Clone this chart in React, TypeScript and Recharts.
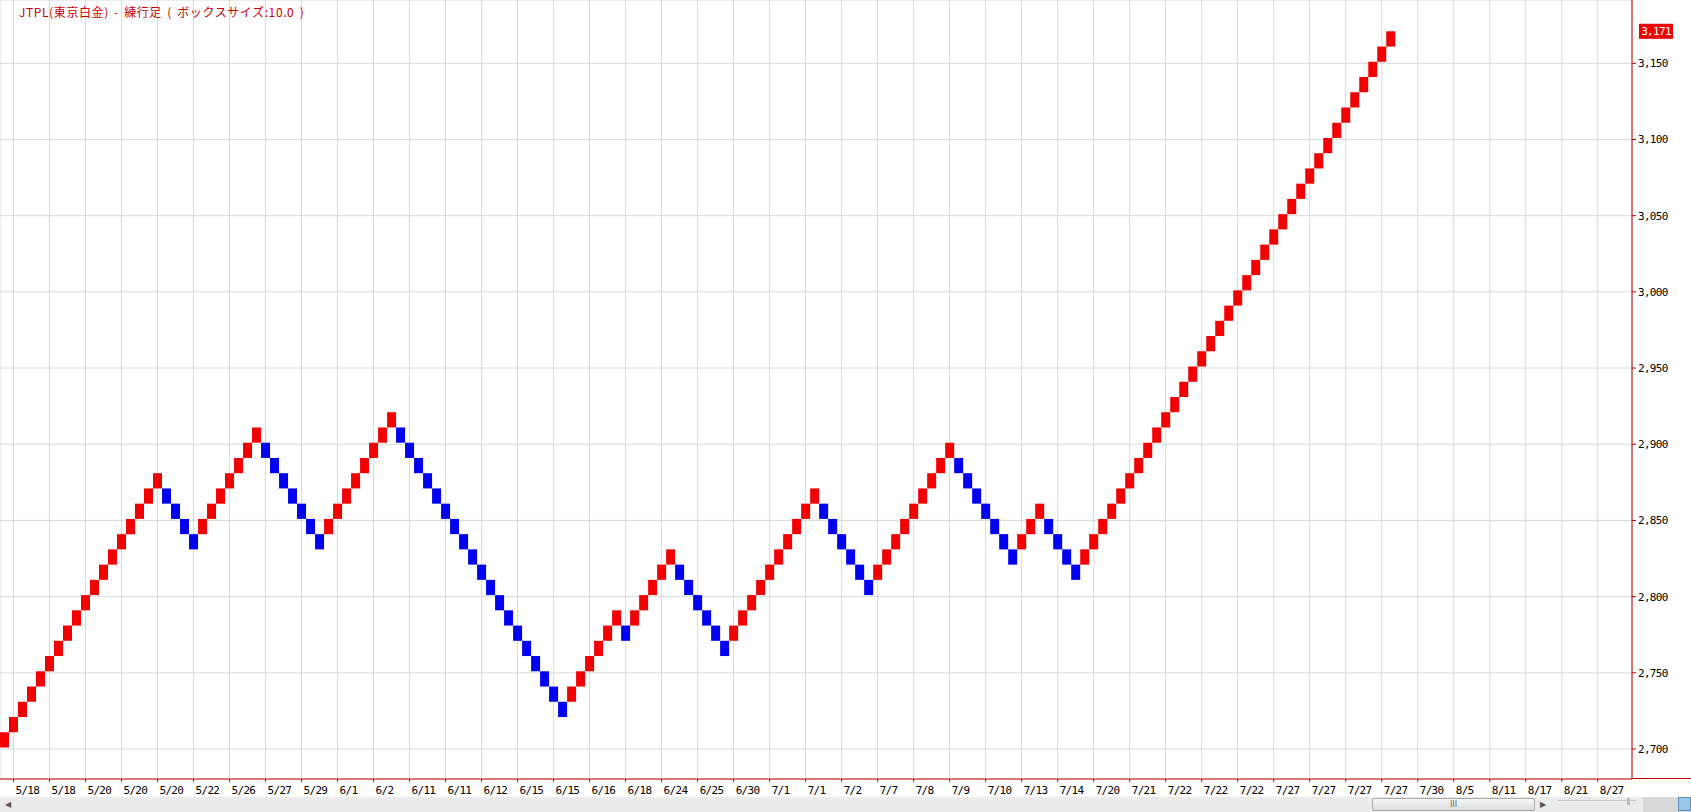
import React from "react";
import {
  ComposedChart,
  Bar,
  XAxis,
  YAxis,
  CartesianGrid,
  Cell,
  ReferenceLine,
} from "recharts";

const TITLE = "JTPL(東京白金) - 練行足 ( ボックスサイズ:10.0 )";
const BOX_SIZE = 10;
const LAST_PRICE = 3171;

// lower edge of each brick, one per column, left to right
const BRICK_LOWS = [
  2701, 2711, 2721, 2731, 2741, 2751, 2761, 2771, 2781, 2791, 2801, 2811, 2821, 2831, 2841, 2851, 2861, 2871,
  2861, 2851, 2841, 2831,
  2841, 2851, 2861, 2871, 2881, 2891, 2901,
  2891, 2881, 2871, 2861, 2851, 2841, 2831,
  2841, 2851, 2861, 2871, 2881, 2891, 2901, 2911,
  2901, 2891, 2881, 2871, 2861, 2851, 2841, 2831, 2821, 2811, 2801, 2791, 2781, 2771, 2761, 2751, 2741, 2731, 2721,
  2731, 2741, 2751, 2761, 2771, 2781,
  2771,
  2781, 2791, 2801, 2811, 2821,
  2811, 2801, 2791, 2781, 2771, 2761,
  2771, 2781, 2791, 2801, 2811, 2821, 2831, 2841, 2851, 2861,
  2851, 2841, 2831, 2821, 2811, 2801,
  2811, 2821, 2831, 2841, 2851, 2861, 2871, 2881, 2891,
  2881, 2871, 2861, 2851, 2841, 2831, 2821,
  2831, 2841, 2851,
  2841, 2831, 2821, 2811,
  2821, 2831, 2841, 2851, 2861, 2871, 2881, 2891, 2901, 2911, 2921, 2931, 2941, 2951, 2961, 2971, 2981, 2991,
  3001, 3011, 3021, 3031, 3041, 3051, 3061, 3071, 3081, 3091, 3101, 3111, 3121, 3131, 3141, 3151, 3161,
];

// 1 = rising brick (red), 0 = falling brick (blue)
const BRICK_UP = [
  1, 1, 1, 1, 1, 1, 1, 1, 1, 1, 1, 1, 1, 1, 1, 1, 1, 1,
  0, 0, 0, 0,
  1, 1, 1, 1, 1, 1, 1,
  0, 0, 0, 0, 0, 0, 0,
  1, 1, 1, 1, 1, 1, 1, 1,
  0, 0, 0, 0, 0, 0, 0, 0, 0, 0, 0, 0, 0, 0, 0, 0, 0, 0, 0,
  1, 1, 1, 1, 1, 1,
  0,
  1, 1, 1, 1, 1,
  0, 0, 0, 0, 0, 0,
  1, 1, 1, 1, 1, 1, 1, 1, 1, 1,
  0, 0, 0, 0, 0, 0,
  1, 1, 1, 1, 1, 1, 1, 1, 1,
  0, 0, 0, 0, 0, 0, 0,
  1, 1, 1,
  0, 0, 0, 0,
  1, 1, 1, 1, 1, 1, 1, 1, 1, 1, 1, 1, 1, 1, 1, 1, 1, 1,
  1, 1, 1, 1, 1, 1, 1, 1, 1, 1, 1, 1, 1, 1, 1, 1, 1,
];

const DATE_TICKS = [
  1, 5, 9, 13, 17, 21, 25, 29, 33, 37, 41, 45, 49, 53, 57, 61, 65, 69, 73, 77, 81, 85, 89,
  93, 97, 101, 105, 109, 113, 117, 121, 125, 129, 133, 137, 141, 145, 149, 153, 157, 161,
  165, 169, 173, 177,
];

const DATE_LABELS = [
  "5/18", "5/18", "5/20", "5/20", "5/20", "5/22", "5/26", "5/27", "5/29", "6/1", "6/2",
  "6/11", "6/11", "6/12", "6/15", "6/15", "6/16", "6/18", "6/24", "6/25", "6/30", "7/1",
  "7/1", "7/2", "7/7", "7/8", "7/9", "7/10", "7/13", "7/14", "7/20", "7/21", "7/22",
  "7/22", "7/22", "7/27", "7/27", "7/27", "7/27", "7/30", "8/5", "8/11", "8/17", "8/21", "8/27",
];

const PRICE_TICKS = [2700, 2750, 2800, 2850, 2900, 2950, 3000, 3050, 3100, 3150];

const RED = "#f20000";
const BLUE = "#0000f0";
const AXIS = "#c00000";
const GRID = "#dadada";

const tickFont: React.CSSProperties = {
  fontFamily: "'DejaVu Sans Mono', monospace",
  fontSize: 11,
  letterSpacing: -0.7,
};

const data = BRICK_LOWS.map((low, i) => ({
  col: i,
  range: [low, low + BOX_SIZE],
  up: BRICK_UP[i] === 1,
}));

function DateTick(props: any) {
  const { x, y, payload } = props;
  const idx = DATE_TICKS.indexOf(payload.value);
  return (
    <text x={x + 2} y={y} dy="0.71em" textAnchor="start" fill="#000" style={tickFont}>
      {DATE_LABELS[idx]}
    </text>
  );
}

function PriceTick(props: any) {
  const { x, y, payload } = props;
  return (
    <text x={x} y={y} dy="0.355em" textAnchor="start" fill="#000" style={tickFont}>
      {payload.value.toLocaleString("en-US")}
    </text>
  );
}

function PriceTag(props: any) {
  const vb = props.viewBox || {};
  const x = vb.x + vb.width + 7;
  const y = vb.y;
  return (
    <g>
      <rect x={x} y={y - 7.5} width={34} height={15} fill="#ee0000" />
      <text x={x + 17} y={y} dy="0.355em" textAnchor="middle" fill="#fff" style={tickFont}>
        {LAST_PRICE.toLocaleString("en-US")}
      </text>
    </g>
  );
}

export default function App() {
  return (
    <div
      style={{
        position: "absolute",
        left: 0,
        top: 0,
        width: 1691,
        height: 812,
        background: "#fff",
        overflow: "hidden",
      }}
    >
      <ComposedChart
        width={1691}
        height={797}
        data={data}
        margin={{ top: 0, right: 0, bottom: 0, left: 0 }}
        barGap={0}
        barCategoryGap={0}
      >
        <CartesianGrid stroke={GRID} />
        <XAxis
          dataKey="col"
          type="number"
          domain={[-0.5, 180.8]}
          allowDataOverflow
          ticks={DATE_TICKS}
          interval={0}
          height={18}
          tickSize={3}
          tickMargin={4}
          tick={<DateTick />}
          axisLine={{ stroke: AXIS }}
          tickLine={{ stroke: AXIS }}
        />
        <YAxis
          orientation="right"
          type="number"
          domain={[2680.31, 3191.54]}
          allowDataOverflow
          ticks={PRICE_TICKS}
          interval={0}
          width={59}
          tickSize={4}
          tickMargin={2}
          tick={<PriceTick />}
          axisLine={{ stroke: AXIS }}
          tickLine={{ stroke: AXIS }}
        />
        <Bar dataKey="range" barSize={9} isAnimationActive={false}>
          {data.map((d, i) => (
            <Cell key={i} fill={d.up ? RED : BLUE} />
          ))}
        </Bar>
        <ReferenceLine y={LAST_PRICE} stroke="none" label={<PriceTag />} />
      </ComposedChart>

      {/* title */}
      <div
        style={{
          position: "absolute",
          left: 19,
          top: 5,
          fontFamily: "'Noto Sans CJK JP', sans-serif",
          fontSize: 12,
          lineHeight: "14px",
          letterSpacing: 0.6,
          wordSpacing: 2,
          color: "#cc0000",
          whiteSpace: "pre",
        }}
      >
        {TITLE}
      </div>

      {/* axis line runs on under the price scale */}
      <div style={{ position: "absolute", left: 1632, top: 778, width: 59, height: 1, background: AXIS }} />

      {/* scroll bar strip */}
      <div style={{ position: "absolute", left: 0, top: 797, width: 1691, height: 15, background: "#ebebeb" }}>
        <div style={{ position: "absolute", left: 5, top: 3, fontSize: 8, color: "#555", fontFamily: "DejaVu Sans" }}>◀</div>
        <div
          style={{
            position: "absolute",
            left: 1372,
            top: 1,
            width: 161,
            height: 11,
            border: "1px solid #a9a9a9",
            borderRadius: 2,
            background: "linear-gradient(#f7f7f7, #dcdcdc)",
            textAlign: "center",
            fontSize: 8,
            lineHeight: "11px",
            color: "#666",
            fontFamily: "DejaVu Sans",
          }}
        >
          III
        </div>
        <div style={{ position: "absolute", left: 1540, top: 3, fontSize: 8, color: "#555", fontFamily: "DejaVu Sans" }}>▶</div>
        <div style={{ position: "absolute", left: 1558, top: 3, width: 78, height: 1, background: "#c8c8c8" }} />
        <div style={{ position: "absolute", left: 1627, top: 1, width: 3, height: 7, background: "#bbb" }} />
        <div style={{ position: "absolute", left: 1643, top: 0, width: 48, height: 15, background: "#d8d8d8" }} />
        <div style={{ position: "absolute", left: 1678, top: 0, width: 13, height: 14, background: "#9cc7e6", border: "1px solid #5a8fc0", boxSizing: "border-box" }} />
      </div>
    </div>
  );
}
